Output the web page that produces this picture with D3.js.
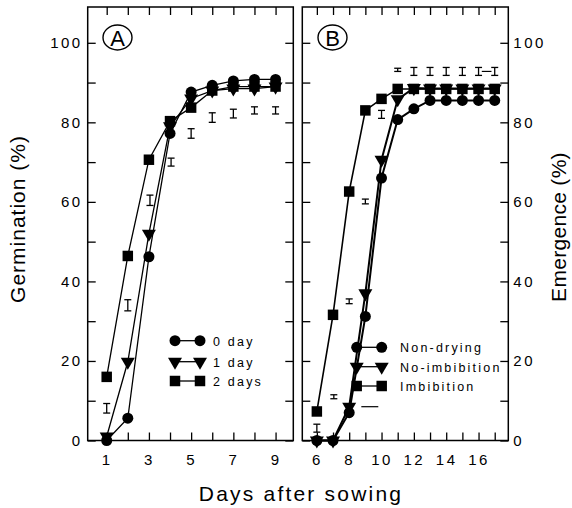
<!DOCTYPE html>
<html>
<head>
<meta charset="utf-8">
<script src="https://cdn.jsdelivr.net/npm/d3@7"></script>
<style>
  body { margin: 0; background: #fff; }
  svg { display: block; }
  text { font-family: Arial, "Liberation Sans", Helvetica, sans-serif; fill: #000; }
</style>
</head>
<body>
<svg id="chart" width="572" height="508"></svg>
<script>
// ---------- Data ----------
// Panel A: Germination (%)
const daysA = [1, 2, 3, 4, 5, 6, 7, 8, 9];
const day0 = [0, 5.6, 46.2, 77.2, 87.6, 89.3, 90.4, 90.8, 90.8];
const day1 = [1, 19.8, 52, 79, 86, 88, 88.5, 88.5, 89];
const day2 = [16, 46.4, 70.6, 80.3, 83.7, 88, 89, 89, 89];
const errA_x = [1, 2, 3.05, 4.05, 5, 6, 7, 8, 9];
const errA_y = [8.1, 34, 60.4, 70, 77.2, 81.2, 82.2, 83, 83];
const errA_h = [1.2, 1.4, 1.3, 1, 1.2, 1.2, 1.1, 0.9, 0.9];
const legendA = ["0 day", "1 day", "2 days"];

// Panel B: Emergence (%)
const daysB = [6, 7, 8, 9, 10, 11, 12, 13, 14, 15, 16, 17];
const nonDrying = [0, 0, 7, 31.2, 66, 80.7, 83.4, 85.5, 85.5, 85.5, 85.5, 85.5];
const noImbibition = [0, 0, 8.5, 37, 70.6, 85.8, 88.6, 88.5, 88.5, 88.5, 88.5, 88.5];
const imbibition = [7.3, 31.6, 62.6, 83, 85.9, 88.4, 88.4, 88.4, 88.4, 88.4, 88.4, 88.4];
const errB_x = [6, 7.05, 8, 9, 10, 11, 12, 13, 14, 15, 16, 17];
const errB_y = [3.1, 11, 35, 60.1, 82, 93.2, 92.8, 92.8, 92.8, 92.8, 92.8, 92.8];
const errB_h = [1, 0.5, 0.6, 0.6, 1, 0.4, 1, 1, 1, 1, 1, 1];
const dashB_x0 = [8.75, 16.2];
const dashB_x1 = [9.8, 16.8];
const dashB_y = [8.5, 92.8];
const legendB = ["Non-drying", "No-imbibition", "Imbibition"];

// Tick values
const xTicksA = [1, 2, 3, 4, 5, 6, 7, 8, 9];
const xLabelsA = [1, 3, 5, 7, 9];
const xTicksB = [6, 7, 8, 9, 10, 11, 12, 13, 14, 15, 16, 17];
const xLabelsB = [6, 8, 10, 12, 14, 16];
const yTicks = [0, 10, 20, 30, 40, 50, 60, 70, 80, 90, 100];
const yLabels = [0, 20, 40, 60, 80, 100];

// ---------- Layout ----------
const svg = d3.select("#chart");
const yTop = 7, yBottom = 440.5;
const y = d3.scaleLinear().domain([0, 109]).range([yBottom, yTop]);
const xA = d3.scaleLinear().domain([0.1, 9.84]).range([87.7, 293.3]);
const xB = d3.scaleLinear().domain([5.1, 17.84]).range([302.3, 508.3]);

const tickLen = 8;

function styleAxis(g) {
  g.select(".domain").remove();
  g.selectAll(".tick line").attr("stroke", "#000").attr("stroke-width", 1.3);
  g.selectAll(".tick text").style("font-size", "15px").style("letter-spacing", "2.5px")
    .attr("fill", "#000");
}

function drawPanel(x, xTicks, xLabels, yLabelSide) {
  const [x0, x1] = x.range();
  svg.append("g").attr("transform", `translate(0,${yBottom})`)
    .call(d3.axisBottom(x).tickValues(xTicks).tickSize(-tickLen).tickPadding(14)
      .tickFormat(d => xLabels.includes(d) ? d : ""))
    .call(styleAxis);
  svg.append("g").attr("transform", `translate(0,${yTop})`)
    .call(d3.axisTop(x).tickValues(xTicks).tickSize(-tickLen).tickFormat(""))
    .call(styleAxis);
  svg.append("g").attr("transform", `translate(${x0},0)`)
    .call(d3.axisLeft(y).tickValues(yTicks).tickSize(-tickLen).tickPadding(5)
      .tickFormat(d => (yLabelSide === "left" && yLabels.includes(d)) ? d : ""))
    .call(styleAxis);
  svg.append("g").attr("transform", `translate(${x1},0)`)
    .call(d3.axisRight(y).tickValues(yTicks).tickSize(-tickLen).tickPadding(5)
      .tickFormat(d => (yLabelSide === "right" && yLabels.includes(d)) ? d : ""))
    .call(styleAxis);
  svg.append("rect").attr("x", x0).attr("y", yTop)
    .attr("width", x1 - x0).attr("height", yBottom - yTop)
    .attr("fill", "none").attr("stroke", "#000").attr("stroke-width", 1.5);
}

drawPanel(xA, xTicksA, xLabelsA, "left");
drawPanel(xB, xTicksB, xLabelsB, "right");

// ---------- Markers ----------
const sym = {
  circle: d3.symbol().type(d3.symbolCircle).size(95),
  square: d3.symbol().type(d3.symbolSquare).size(110),
  triangle: d3.symbol().type(d3.symbolTriangle).size(85)
};

function drawSeries(x, xs, ys, shape, lw) {
  const pts = xs.map((d, i) => [d, ys[i]]);
  svg.append("path").datum(pts)
    .attr("d", d3.line().x(d => x(d[0])).y(d => y(d[1])))
    .attr("fill", "none").attr("stroke", "#000").attr("stroke-width", lw);
  svg.append("g").selectAll("path").data(pts).join("path")
    .attr("transform", d => `translate(${x(d[0])},${y(d[1])})` + (shape === "triangle" ? " rotate(180)" : ""))
    .attr("d", sym[shape]).attr("fill", "#000");
}

function drawErr(x, xs, ys, hs) {
  const g = svg.append("g").attr("stroke", "#000").attr("stroke-width", 1.3);
  xs.forEach((d, i) => {
    const cx = x(d), y0 = y(ys[i] - hs[i]), y1 = y(ys[i] + hs[i]);
    g.append("line").attr("x1", cx).attr("x2", cx).attr("y1", y0).attr("y2", y1);
    g.append("line").attr("x1", cx - 3.5).attr("x2", cx + 3.5).attr("y1", y0).attr("y2", y0);
    g.append("line").attr("x1", cx - 3.5).attr("x2", cx + 3.5).attr("y1", y1).attr("y2", y1);
  });
}

// Panel A
drawErr(xA, errA_x, errA_y, errA_h);
drawSeries(xA, daysA, day2, "square", 1.3);
drawSeries(xA, daysA, day1, "triangle", 1.3);
drawSeries(xA, daysA, day0, "circle", 1.3);

// Panel B
drawErr(xB, errB_x, errB_y, errB_h);
dashB_x0.forEach((d, i) => {
  svg.append("line").attr("x1", xB(d)).attr("x2", xB(dashB_x1[i]))
    .attr("y1", y(dashB_y[i])).attr("y2", y(dashB_y[i]))
    .attr("stroke", "#000").attr("stroke-width", 1.2);
});
drawSeries(xB, daysB, imbibition, "square", 1.6);
drawSeries(xB, daysB, noImbibition, "triangle", 2);
drawSeries(xB, daysB, nonDrying, "circle", 2);

// ---------- Legends ----------
function drawLegend(labels, shapes, mx0, mx1, tx, rows) {
  labels.forEach((lab, i) => {
    const ry = rows[i];
    svg.append("line").attr("x1", mx0).attr("x2", mx1).attr("y1", ry).attr("y2", ry)
      .attr("stroke", "#000").attr("stroke-width", 1.3);
    [mx0, mx1].forEach(mx => {
      svg.append("path")
        .attr("transform", `translate(${mx},${ry})` + (shapes[i] === "triangle" ? " rotate(180)" : ""))
        .attr("d", sym[shapes[i]]).attr("fill", "#000");
    });
    svg.append("text").attr("x", tx).attr("y", ry + 5)
      .style("font-size", "12.5px").style("letter-spacing", "2.2px").text(lab);
  });
}
drawLegend(legendA, ["circle", "triangle", "square"], 175, 200, 213, [340.7, 361.7, 381]);
drawLegend(legendB, ["circle", "triangle", "square"], 356.7, 381.7, 400, [347.3, 366.7, 386]);

// ---------- Panel letters ----------
[["A", 117.5], ["B", 332.5]].forEach(([t, cx]) => {
  svg.append("ellipse").attr("cx", cx).attr("cy", 37.5).attr("rx", 14.5).attr("ry", 12.5)
    .attr("fill", "none").attr("stroke", "#000").attr("stroke-width", 1.4);
  svg.append("text").attr("x", cx).attr("y", 45.5).attr("text-anchor", "middle")
    .style("font-size", "22px").text(t);
});

// ---------- Axis titles ----------
svg.append("text").attr("x", 301).attr("y", 501).attr("text-anchor", "middle")
  .style("font-size", "21px").style("letter-spacing", "2.2px").text("Days after sowing");
svg.append("text").attr("transform", "translate(25,219) rotate(-90)").attr("text-anchor", "middle")
  .style("font-size", "21px").style("letter-spacing", "1px").text("Germination (%)");
svg.append("text").attr("transform", "translate(566,227) rotate(-90)").attr("text-anchor", "middle")
  .style("font-size", "21px").style("letter-spacing", "0.3px").text("Emergence (%)");
</script>
</body>
</html>
